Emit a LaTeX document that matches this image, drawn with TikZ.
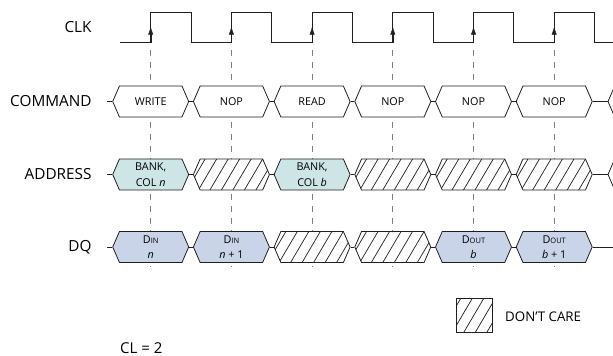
\documentclass[tikz,border=0pt]{standalone}
\usepackage{fontspec}
\setmainfont{Open Sans}
\usepackage{xcolor}
\usepackage{tikz}
\usetikzlibrary{arrows.meta,shapes.symbols}

\definecolor{rim}{RGB}{35,31,32}
\definecolor{addrfill}{RGB}{205,230,229}
\definecolor{dqfill}{RGB}{201,212,232}

\newcommand\Din{D{\fontsize{7.5}{7.5}\selectfont IN}}
\newcommand\Dout{D{\fontsize{7.5}{7.5}\selectfont OUT}}

\tikzset{
  bus/.style={signal,signal to=east and west,signal pointer angle=133,draw=rim,line width=.8pt,
    fill=white,minimum width=76pt,minimum height=31pt,inner sep=0pt,align=center,
    font=\fontsize{10.8}{15.5}\selectfont},
  dontcare/.style={path picture={\foreach \k in {-8,...,8}
      \draw[rim,line width=.7pt] ([xshift=\k*11.5pt-10pt]path picture bounding box.south) -- ++(20pt,34pt);}},
  lbl/.style={anchor=east,inner sep=0pt,font=\fontsize{15.3}{18}\selectfont},
}

\begin{document}
\begin{tikzpicture}[x=1pt,y=-1pt]
\clip (0,0) rectangle (613,356);

% clock and its rising edges
\draw[rim,line width=.8pt] (120,42.7)
  \foreach \e in {150.7,231.4,312.1,392.8,473.5,554.2} {-- (\e,42.7) -- (\e,12.3) -- (\e+40.35,12.3) -- (\e+40.35,42.7)}
  -- (613,42.7);
\foreach \e in {150.7,231.4,312.1,392.8,473.5,554.2} {
  \draw[rim,-{Latex[length=8pt,width=5pt]}] (\e,42.7) -- (\e,26.5);
  \draw[gray,line width=.8pt,dash pattern=on 6pt off 6pt] (\e,50) -- (\e,267);
}

% row names
\node[lbl] (clk) at (91.7,27) {CLK};
\node[lbl] (cmd) at (91.7,101.5) {COMMAND};
\node[lbl] (adr) at (91.7,174.5) {ADDRESS};
\node[lbl] (dq) at (91.7,247) {DQ};

% command
\coordinate (c0) at (107,101.5);
\foreach [count=\i] \t in {WRITE,NOP,READ,NOP,NOP,NOP}
  \node[bus] (c\i) at (70+80.7*\i,101.5) {\t};
\node[bus] (c7) at (646,101.5) {};

% address
\coordinate (a0) at (107,174.5);
\node[bus,fill=addrfill] (a1) at (150.7,174.5) {BANK,\\COL \textit{n}};
\node[bus,dontcare] (a2) at (231.4,174.5) {};
\node[bus,fill=addrfill] (a3) at (312.1,174.5) {BANK,\\COL \textit{b}};
\node[bus,dontcare] (a4) at (392.8,174.5) {};
\node[bus,dontcare] (a5) at (473.5,174.5) {};
\node[bus,dontcare] (a6) at (554.2,174.5) {};
\node[bus] (a7) at (646,174.5) {};

% data
\coordinate (d0) at (107,247);
\node[bus,fill=dqfill] (d1) at (150.7,247) {\Din\\\textit{n}};
\node[bus,fill=dqfill] (d2) at (231.4,247) {\Din\\\textit{n} + 1};
\node[bus,dontcare] (d3) at (312.1,247) {};
\node[bus,dontcare] (d4) at (392.8,247) {};
\node[bus,fill=dqfill] (d5) at (473.5,247) {\Dout\\\textit{b}};
\node[bus,fill=dqfill] (d6) at (554.2,247) {\Dout\\\textit{b} + 1};
\coordinate (d7) at (613,247);

% links between the slots
\foreach \r in {c,a} {
  \draw[rim,line width=.8pt] (\r0) -- (\r1.west);
  \foreach \i [evaluate=\i as \j using int(\i+1)] in {1,...,6}
    \draw[rim,line width=.8pt] (\r\i.east) -- (\r\j.west);
}
\draw[rim,line width=.8pt] (d0) -- (d1.west);
\foreach \i [evaluate=\i as \j using int(\i+1)] in {1,...,5}
  \draw[rim,line width=.8pt] (d\i.east) -- (d\j.west);
\draw[rim,line width=.8pt] (d6.east) -- (d7);

% key
\node[draw=rim,line width=.8pt,minimum width=36pt,minimum height=34pt,inner sep=0pt,dontcare] (key) at (474,315) {};
\node[anchor=west,inner sep=0pt,font=\fontsize{13.3}{16}\selectfont] (keytxt) at (505,317) {DON’T CARE};
\node[anchor=west,inner sep=0pt,font=\fontsize{15}{18}\selectfont] (cl) at (120,348) {CL = 2};
\end{tikzpicture}
\end{document}
